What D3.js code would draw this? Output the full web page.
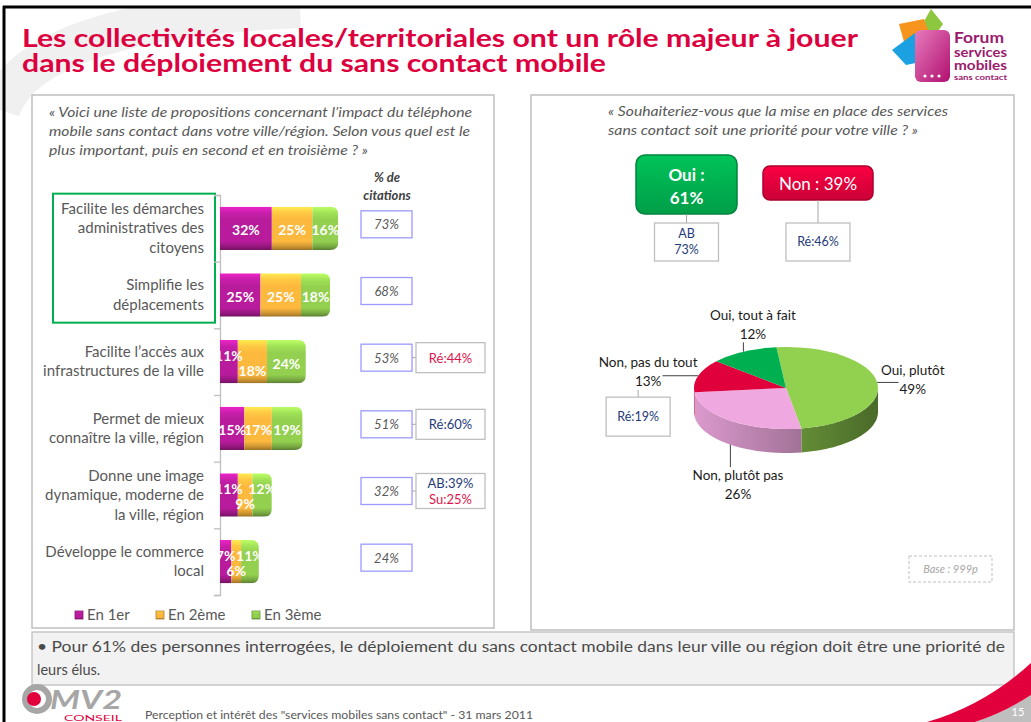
<!DOCTYPE html>
<html>
<head>
<meta charset="utf-8">
<script src="https://cdn.jsdelivr.net/npm/d3@7"></script>
<style>
body { margin: 0; background: #fff; }
svg { display: block; font-family: Lato, 'Open Sans', sans-serif; }
</style>
</head>
<body>
<svg id="slide" width="1031" height="722"></svg>
<script>
// ---- data ----
var categories = [
	['Facilite les démarches', 'administratives des', 'citoyens'],
	['Simplifie les', 'déplacements'],
	['Facilite l’accès aux', 'infrastructures de la ville'],
	['Permet de mieux', 'connaître la ville, région'],
	['Donne une image', 'dynamique, moderne de', 'la ville, région'],
	['Développe le commerce', 'local']
];
var rankNames = ['En 1er', 'En 2ème', 'En 3ème'];
var firstRank = [32, 25, 11, 15, 11, 7];
var secondRank = [25, 25, 18, 17, 9, 6];
var thirdRank = [16, 18, 24, 19, 12, 11];
var citations = [73, 68, 53, 51, 32, 24];
var highlighted = [0, 1];
var subgroupNotes = [[], [], [['Ré', 44]], [['Ré', 60]], [['AB', 39], ['Su', 25]], []];

var priorityNames = ['Oui', 'Non'];
var priorityValues = [61, 39];
var priorityNotes = [['AB', 73], ['Ré', 46]];

var pieNames = ['Oui, plutôt', 'Non, plutôt pas', 'Non, pas du tout', 'Oui, tout à fait'];
var pieValues = [49, 26, 13, 12];
var pieNotes = [null, null, ['Ré', 19], null];

var titleLines = ['Les collectivités locales/territoriales ont un rôle majeur à jouer',
	'dans le déploiement du sans contact mobile'];
var leftQuestion = ['« Voici une liste de propositions concernant l’impact du téléphone',
	'mobile sans contact dans votre ville/région. Selon vous quel est le',
	'plus important, puis en second et en troisième ? »'];
var rightQuestion = ['« Souhaiteriez-vous que la mise en place des services',
	'sans contact soit une priorité pour votre ville ? »'];
var conclusion = ['• Pour 61% des personnes interrogées, le déploiement du sans contact mobile dans leur ville ou région doit être une priorité de',
	'leurs élus.'];
var baseLabel = 'Base : 999p';
var footer = 'Perception et intérêt des "services mobiles sans contact" - 31 mars 2011';
var pageNumber = '15';

// ---- styling ----
var red = '#DC003E', navy = '#1F3A7A', grey = '#595959';
var rankColors = ['#B81C9C', '#FDB83E', '#93D050'];
var pieColors = ['#92D050', '#EFA8E0', '#E0003C', '#00B050'];

var svg = d3.select('#slide');
var defs = svg.append('defs');

function fit(sel, w) {
	sel.attr('textLength', w).attr('lengthAdjust', 'spacingAndGlyphs');
	return sel;
}

// background swoosh and frame
svg.append('path')
	.attr('d', 'M0,110 Q30,20 300,8')
	.attr('fill', 'none').attr('stroke', '#f0f0f0').attr('stroke-width', 40);
svg.append('rect').attr('x', 0).attr('y', 0).attr('width', 1031).attr('height', 6).attr('fill', '#fff');
svg.append('line').attr('x1', 3).attr('x2', 1031).attr('y1', 7).attr('y2', 7)
	.attr('stroke', '#000').attr('stroke-width', 3);
svg.append('line').attr('x1', 4).attr('x2', 4).attr('y1', 6).attr('y2', 722)
	.attr('stroke', '#000').attr('stroke-width', 3);

// title
svg.selectAll('text.title').data(titleLines).enter().append('text')
	.attr('class', 'title')
	.attr('x', 22).attr('y', function(d, i) { return 47 + i * 25; })
	.style('font-size', '25px').style('font-weight', 'bold').style('fill', red)
	.text(function(d) { return d; })
	.each(function(d, i) { fit(d3.select(this), i ? 584 : 836); });

// forum logo
var logo = svg.append('g');
logo.append('path').attr('d', 'M931,9 L943,24 L936,34 L919,30 Z').attr('fill', '#8DC63F');
logo.append('path').attr('d', 'M899,24 L924,19 L931,38 L904,42 Z').attr('fill', '#F7941D');
logo.append('path').attr('d', 'M892,50 L915,33 L921,62 L906,65 Z').attr('fill', '#1BA1E2');
var phoneGrad = defs.append('linearGradient').attr('id', 'phone').attr('x1', 0).attr('y1', 0).attr('x2', 1).attr('y2', 1);
phoneGrad.append('stop').attr('offset', 0).attr('stop-color', '#E77BBD');
phoneGrad.append('stop').attr('offset', 1).attr('stop-color', '#B0106F');
logo.append('rect').attr('x', 915).attr('y', 30).attr('width', 35).attr('height', 52).attr('rx', 6)
	.attr('fill', 'url(#phone)');
logo.selectAll('circle').data([0, 1, 2]).enter().append('circle')
	.attr('cx', function(d) { return 925 + d * 7; }).attr('cy', 76).attr('r', 1.6).attr('fill', '#fff');
[['Forum', 43, 16, 50], ['services', 57, 13, 53], ['mobiles', 70, 13, 53], ['sans contact', 80, 8, 53]]
	.forEach(function(t) {
		fit(logo.append('text').attr('x', 954).attr('y', t[1])
			.style('font-size', t[2] + 'px').style('font-weight', 'bold').style('fill', '#9B1B6E')
			.text(t[0]), t[3]);
	});

// panels
svg.append('rect').attr('x', 32).attr('y', 95).attr('width', 462).attr('height', 533)
	.attr('fill', '#fff').attr('stroke', '#bfbfbf').attr('stroke-width', 1.5);
svg.append('rect').attr('x', 531).attr('y', 95).attr('width', 483).attr('height', 535)
	.attr('fill', '#fff').attr('stroke', '#bfbfbf').attr('stroke-width', 1.5);

svg.selectAll('text.lq').data(leftQuestion).enter().append('text')
	.attr('class', 'lq').attr('x', 49).attr('y', function(d, i) { return 117 + i * 19; })
	.style('font-size', '14px').style('font-style', 'italic').style('fill', grey)
	.text(function(d) { return d; })
	.each(function(d, i) { fit(d3.select(this), [423, 421, 319][i]); });

svg.selectAll('text.rq').data(rightQuestion).enter().append('text')
	.attr('class', 'rq').attr('x', 608).attr('y', function(d, i) { return 116 + i * 19; })
	.style('font-size', '14px').style('font-style', 'italic').style('fill', grey)
	.text(function(d) { return d; })
	.each(function(d, i) { fit(d3.select(this), [340, 310][i]); });

// ---- stacked bars ----
var x = d3.scaleLinear().domain([0, 100]).range([220, 382]);
var y = d3.scaleBand().domain(d3.range(categories.length))
	.range([195, 595]).paddingInner(0.35).paddingOuter(0.175);

var rows = categories.map(function(c, i) {
	return {r0: firstRank[i], r1: secondRank[i], r2: thirdRank[i]};
});
var series = d3.stack().keys(['r0', 'r1', 'r2'])(rows);

rankColors.forEach(function(c, k) {
	var g = defs.append('linearGradient').attr('id', 'bar' + k)
		.attr('x1', 0).attr('y1', 0).attr('x2', 0).attr('y2', 1);
	var base = d3.color(c);
	[[0, base.brighter(0.7)], [0.14, base.brighter(0.25)], [0.3, base], [0.8, base],
	 [0.92, base.darker(0.6)], [1, base.darker(1.4)]].forEach(function(s) {
		g.append('stop').attr('offset', s[0]).attr('stop-color', s[1].formatHex());
	});
});

// highlight box around the top two items
var hl = d3.extent(highlighted);
svg.append('rect').attr('x', 53).attr('y', y(hl[0]) - 13)
	.attr('width', 162).attr('height', y(hl[1]) + y.bandwidth() + 6 - (y(hl[0]) - 13))
	.attr('fill', 'none').attr('stroke', '#00B050').attr('stroke-width', 2);

// axis with ticks between categories
var yEdges = d3.scaleLinear().domain([0, categories.length]).range([195, 595]);
var axis = svg.append('g').attr('transform', 'translate(220,0)')
	.call(d3.axisLeft(yEdges).ticks(categories.length).tickSize(6).tickFormat(''));
axis.selectAll('path,line').attr('stroke', '#bfbfbf').attr('stroke-width', 1.3);

var barsG = svg.append('g');
rows.forEach(function(row, i) {
	var y0 = y(i), h = y.bandwidth(), x1 = x(series[2][i][1]), r = 8;
	defs.append('clipPath').attr('id', 'clip' + i).append('path')
		.attr('d', 'M' + (x(0) - 4) + ',' + y0 + 'H' + (x1 - r) + 'Q' + x1 + ',' + y0 + ' ' + x1 + ',' + (y0 + r) +
			'V' + (y0 + h - r) + 'Q' + x1 + ',' + (y0 + h) + ' ' + (x1 - r) + ',' + (y0 + h) +
			'H' + (x(0) - 4) + 'Z');
	var g = barsG.append('g').attr('clip-path', 'url(#clip' + i + ')');
	series.forEach(function(s, k) {
		g.append('rect').attr('x', x(s[i][0])).attr('y', y0)
			.attr('width', x(s[i][1]) - x(s[i][0])).attr('height', h)
			.attr('fill', 'url(#bar' + k + ')');
	});
	var prev = null;
	series.forEach(function(s, k) {
		var cx = (x(s[i][0]) + x(s[i][1])) / 2;
		var t = g.append('text').attr('x', cx).attr('y', y0 + h / 2 + 2).attr('dy', '0.35em')
			.attr('text-anchor', 'middle')
			.style('font-size', '14px').style('font-weight', 'bold').style('fill', '#fff')
			.text((s[i][1] - s[i][0]) + '%');
		var w = t.node().getComputedTextLength();
		var cur = {t: t, l: cx - w / 2, r: cx + w / 2, shift: 0};
		if (prev && prev.r - cur.l > 3) {
			if (prev.shift === 0) {
				prev.shift = -1;
				prev.t.attr('transform', 'translate(0,-8)');
				cur.shift = 1;
			} else {
				cur.shift = -prev.shift;
			}
			cur.t.attr('transform', 'translate(0,' + (cur.shift > 0 ? 7 : -8) + ')');
		}
		prev = cur;
	});
});

// category labels
categories.forEach(function(lines, i) {
	var cy = y(i) + y.bandwidth() / 2;
	lines.forEach(function(l, j) {
		svg.append('text').attr('x', 204)
			.attr('y', cy + (j - (lines.length - 1) / 2) * 19.5 + 5)
			.attr('text-anchor', 'end')
			.style('font-size', '15px').style('fill', grey).text(l);
	});
});

// % de citations
['% de', 'citations'].forEach(function(t, i) {
	svg.append('text').attr('x', 387).attr('y', 182 + i * 18).attr('text-anchor', 'middle')
		.style('font-size', '13px').style('font-weight', 'bold').style('font-style', 'italic')
		.style('fill', '#404040').text(t);
});
citations.forEach(function(v, i) {
	var cy = y(i) + y.bandwidth() / 2 - 4;
	svg.append('rect').attr('x', 361).attr('y', cy - 13.5).attr('width', 51).attr('height', 27)
		.attr('fill', '#fff').attr('stroke', '#9A9AFF').attr('stroke-width', 1.3);
	svg.append('text').attr('x', 386.5).attr('y', cy + 5).attr('text-anchor', 'middle')
		.style('font-size', '13px').style('font-style', 'italic').style('fill', grey).text(v + '%');
	var notes = subgroupNotes[i];
	if (notes.length) {
		var bh = notes.length > 1 ? 35 : 30;
		svg.append('line').attr('x1', 412).attr('x2', 416).attr('y1', cy).attr('y2', cy)
			.attr('stroke', '#a6a6a6');
		svg.append('rect').attr('x', 416).attr('y', cy - bh / 2).attr('width', 69).attr('height', bh)
			.attr('fill', '#fff').attr('stroke', '#bfbfbf').attr('stroke-width', 1.3);
		notes.forEach(function(n, j) {
			svg.append('text').attr('x', 450.5)
				.attr('y', cy + 5 + (j - (notes.length - 1) / 2) * 16)
				.attr('text-anchor', 'middle').style('font-size', '13px')
				.style('fill', n[1] > v ? navy : '#E0144C')
				.text(n[0] + ':' + n[1] + '%');
		});
	}
});

// legend
rankNames.forEach(function(n, k) {
	var lx = [75, 156, 252][k];
	svg.append('rect').attr('x', lx).attr('y', 611).attr('width', 8).attr('height', 8)
		.attr('fill', 'url(#bar' + k + ')').attr('stroke', d3.color(rankColors[k]).darker(1).formatHex())
		.attr('stroke-width', 0.8);
	svg.append('text').attr('x', lx + 12).attr('y', 620)
		.style('font-size', '15px').style('fill', grey).text(n);
});

// ---- Oui / Non callouts ----
var boxSpec = [{x: 636, y: 155, w: 101, h: 59, rx: 9, fill: '#00B050'},
	{x: 763, y: 166, w: 110, h: 34, rx: 7, fill: '#E2003C'}];
boxSpec.forEach(function(b, i) {
	var gid = 'call' + i;
	var c = d3.color(b.fill);
	var gr = defs.append('linearGradient').attr('id', gid).attr('x1', 0).attr('y1', 0).attr('x2', 0).attr('y2', 1);
	gr.append('stop').attr('offset', 0).attr('stop-color', c.brighter(0.3).formatHex());
	gr.append('stop').attr('offset', 0.5).attr('stop-color', c.formatHex());
	gr.append('stop').attr('offset', 1).attr('stop-color', c.darker(0.3).formatHex());
	svg.append('rect').attr('x', b.x).attr('y', b.y).attr('width', b.w).attr('height', b.h).attr('rx', b.rx)
		.attr('fill', 'url(#' + gid + ')').attr('stroke', c.darker(0.8).formatHex()).attr('stroke-width', 1.5);
	var cx = b.x + b.w / 2;
	if (i === 0) {
		[priorityNames[i] + ' :', priorityValues[i] + '%'].forEach(function(t, j) {
			svg.append('text').attr('x', cx).attr('y', 181 + j * 23).attr('text-anchor', 'middle')
				.style('font-size', '17px').style('font-weight', 'bold').style('fill', '#fff').text(t);
		});
	} else {
		svg.append('text').attr('x', cx).attr('y', 190).attr('text-anchor', 'middle')
			.style('font-size', '17px').style('fill', '#fff')
			.text(priorityNames[i] + ' : ' + priorityValues[i] + '%');
	}
	var note = priorityNotes[i];
	svg.append('line').attr('x1', cx).attr('x2', cx).attr('y1', b.y + b.h).attr('y2', 223)
		.attr('stroke', '#a6a6a6');
	var nx = cx - 32;
	svg.append('rect').attr('x', nx).attr('y', 223).attr('width', 64).attr('height', 38)
		.attr('fill', '#fff').attr('stroke', '#bfbfbf').attr('stroke-width', 1.3);
	var lines = i === 0 ? [note[0], note[1] + '%'] : [note[0] + ':' + note[1] + '%'];
	lines.forEach(function(t, j) {
		svg.append('text').attr('x', cx).attr('y', 246 + (j - (lines.length - 1) / 2) * 16)
			.attr('text-anchor', 'middle').style('font-size', '12.5px').style('fill', navy).text(t);
	});
});

// ---- 3D pie ----
var pcx = 786, pcy = 388, prx = 92, pry = 41, depth = 24;
var start = -6 * Math.PI / 180;
var arcs = d3.pie().sort(null).startAngle(start).endAngle(start + 2 * Math.PI)(pieValues);
function edge(a, dy) {
	return [pcx + prx * Math.sin(a), pcy - pry * Math.cos(a) + (dy || 0)];
}
var pieG = svg.append('g');
arcs.forEach(function(a, i) {
	var s = Math.max(a.startAngle, Math.PI / 2), e = Math.min(a.endAngle, 3 * Math.PI / 2);
	if (s >= e) return;
	var gr = defs.append('linearGradient').attr('id', 'side' + i).attr('gradientUnits', 'userSpaceOnUse')
		.attr('x1', pcx - prx).attr('x2', pcx + prx).attr('y1', 0).attr('y2', 0);
	var c = d3.color(pieColors[i]);
	gr.append('stop').attr('offset', 0).attr('stop-color', c.darker(0.25).formatHex());
	gr.append('stop').attr('offset', 1).attr('stop-color', c.darker(1.9).formatHex());
	var pts = d3.range(0, 31).map(function(k) { return edge(s + (e - s) * k / 30); });
	var bottom = pts.slice().reverse().map(function(p) { return [p[0], p[1] + depth]; });
	pieG.append('path').attr('d', d3.line()(pts.concat(bottom)) + 'Z')
		.attr('fill', 'url(#side' + i + ')');
});
var pieTop = pieG.append('g').attr('transform', 'translate(' + pcx + ',' + pcy + ') scale(1,' + (pry / prx) + ')');
pieTop.selectAll('path').data(arcs).enter().append('path')
	.attr('d', d3.arc().innerRadius(0).outerRadius(prx))
	.attr('fill', function(d, i) { return pieColors[i]; });

// pie labels
var labelNudge = [[-6, 2], [33, 15], [-10, 6], [29, 2]];
arcs.forEach(function(a, i) {
	var m = (a.startAngle + a.endAngle) / 2;
	var front = -Math.cos(m) > 0.3;
	var ep = edge(m, front ? depth : 0);
	var lx = ep[0] + Math.sin(m) * 42 + labelNudge[i][0];
	var ly = ep[1] - Math.cos(m) * 32 + labelNudge[i][1];
	var g = svg.append('g');
	var t1 = g.append('text').attr('x', lx).attr('y', ly - 5).attr('text-anchor', 'middle')
		.style('font-size', '13.5px').style('fill', '#1a1a1a').text(pieNames[i]);
	var t2 = g.append('text').attr('x', lx).attr('y', ly + 14).attr('text-anchor', 'middle')
		.style('font-size', '13.5px').style('fill', '#1a1a1a').text(pieValues[i] + '%');
	var block = g.node().getBBox(), pct = t2.node().getBBox();
	var box = ep[1] < block.y ? block : pct;
	var tx = Math.max(box.x - 1, Math.min(ep[0], box.x + box.width + 1));
	var ty = Math.max(box.y, Math.min(ep[1], box.y + box.height));
	svg.append('line').attr('x1', ep[0]).attr('y1', ep[1]).attr('x2', tx).attr('y2', ty)
		.attr('stroke', '#404040').attr('stroke-width', 1);
	if (pieNotes[i]) {
		var ncx = lx - 10, ny = pct.y + pct.height + 8;
		svg.append('line').attr('x1', ncx).attr('x2', ncx).attr('y1', pct.y + pct.height + 1).attr('y2', ny)
			.attr('stroke', '#a6a6a6');
		svg.append('rect').attr('x', ncx - 32).attr('y', ny).attr('width', 64).attr('height', 39)
			.attr('fill', '#fff').attr('stroke', '#bfbfbf').attr('stroke-width', 1.3);
		svg.append('text').attr('x', ncx).attr('y', ny + 24).attr('text-anchor', 'middle')
			.style('font-size', '12.5px').style('fill', navy)
			.text(pieNotes[i][0] + ':' + pieNotes[i][1] + '%');
	}
});

// base
svg.append('rect').attr('x', 909).attr('y', 556).attr('width', 83).attr('height', 26)
	.attr('fill', 'none').attr('stroke', '#bfbfbf').attr('stroke-dasharray', '3,2');
svg.append('text').attr('x', 950.5).attr('y', 573).attr('text-anchor', 'middle')
	.style('font-size', '11px').style('font-style', 'italic').style('fill', '#a6a6a6').text(baseLabel);

// conclusion box
svg.append('rect').attr('x', 32).attr('y', 632).attr('width', 982).attr('height', 53)
	.attr('fill', '#f2f2f2').attr('stroke', '#bfbfbf').attr('stroke-width', 1.3);
conclusion.forEach(function(t, i) {
	var tt = svg.append('text').attr('x', 37).attr('y', 652 + i * 23)
		.style('font-size', '14.5px').style('fill', '#4a4a4a').text(t);
	if (i === 0) fit(tt, 968);
});

// footer
var mv = svg.append('g');
mv.append('circle').attr('cx', 37).attr('cy', 699).attr('r', 12).attr('fill', 'none')
	.attr('stroke', '#a6a6a6').attr('stroke-width', 6);
mv.append('circle').attr('cx', 34).attr('cy', 699).attr('r', 7).attr('fill', '#E2003C');
fit(mv.append('text').attr('x', 50).attr('y', 709).style('font-size', '27px').style('font-weight', 'bold')
	.style('font-style', 'italic').style('fill', '#a6a6a6').text('MV2'), 72);
fit(mv.append('text').attr('x', 64).attr('y', 721).style('font-size', '7.5px').style('fill', '#E2003C')
	.text('CONSEIL'), 58);
fit(svg.append('text').attr('x', 145).attr('y', 719).style('font-size', '11.5px').style('fill', grey)
	.text(footer), 388);

svg.append('path').attr('d', 'M1031,695 Q1005,712 975,722 L1031,722 Z').attr('fill', '#bfbfbf');
svg.append('path').attr('d', 'M1031,663 Q985,705 927,722 L975,722 Q1005,712 1031,695 Z').attr('fill', '#E2003C');
svg.append('text').attr('x', 1018).attr('y', 716).attr('text-anchor', 'middle')
	.style('font-size', '11px').style('fill', '#fff').text(pageNumber);
</script>
</body>
</html>
